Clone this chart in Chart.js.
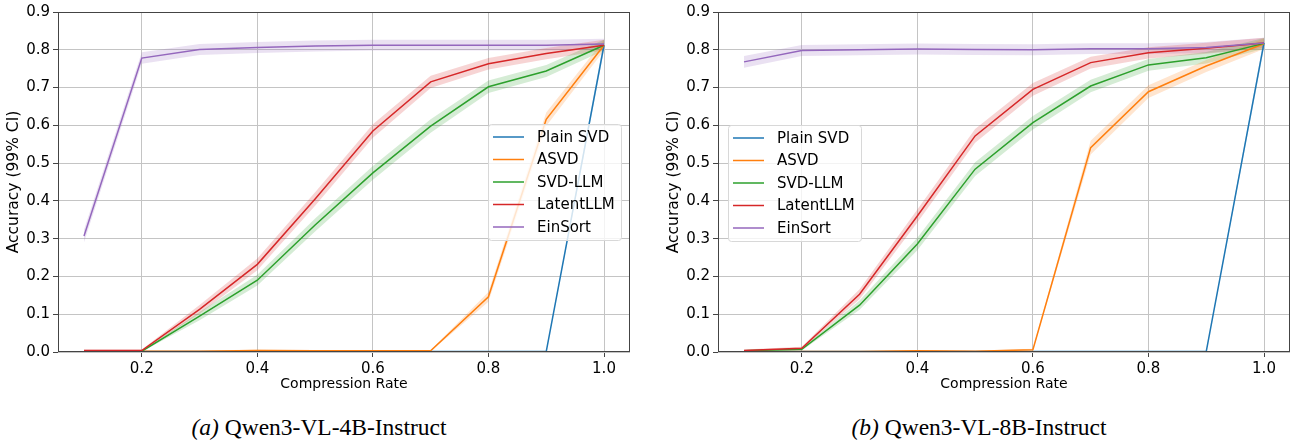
<!DOCTYPE html>
<html>
<head>
<meta charset="utf-8">
<script src="https://cdn.jsdelivr.net/npm/chart.js@4.4.1/dist/chart.umd.min.js"></script>
<style>
html,body{margin:0;padding:0;background:#fff;}
body{width:1291px;height:443px;position:relative;overflow:hidden;}
.wrap{position:absolute;top:0;height:400px;}
.cap{position:absolute;top:415px;line-height:24px;font-family:'Liberation Serif','Times New Roman',serif;font-size:23.5px;color:#000;white-space:nowrap;transform:translateX(-50%);}
</style>
</head>
<body>
<div class="wrap" style="left:0;width:645px"><canvas id="c1" width="645" height="400"></canvas></div>
<div class="wrap" style="left:660px;width:631px"><canvas id="c2" width="631" height="400"></canvas></div>
<div class="cap" style="left:319px"><i>(a)</i> Qwen3-VL-4B-Instruct</div>
<div class="cap" style="left:979px"><i>(b)</i> Qwen3-VL-8B-Instruct</div>
<script>
// ---------- data ----------
const compressionRates = [0.1, 0.2, 0.3, 0.4, 0.5, 0.6, 0.7, 0.8, 0.9, 1.0];
const xTickValues = [0.2, 0.4, 0.6, 0.8, 1.0];
const yTickValues = [0.0, 0.1, 0.2, 0.3, 0.4, 0.5, 0.6, 0.7, 0.8, 0.9];
const seriesNames = ['Plain SVD', 'ASVD', 'SVD-LLM', 'LatentLLM', 'EinSort'];
const seriesColors = ['#1f77b4', '#ff7f0e', '#2ca02c', '#d62728', '#9467bd'];

// Qwen3-VL-4B-Instruct
const plainSvd4B  = [0.001, 0.001, 0.001, 0.001, 0.001, 0.001, 0.001, 0.001, 0.001, 0.812];
const asvd4B      = [0.002, 0.002, 0.002, 0.004, 0.003, 0.003, 0.003, 0.146, 0.616, 0.812];
const svdLlm4B    = [0.002, 0.002, 0.095, 0.190, 0.336, 0.474, 0.598, 0.702, 0.744, 0.812];
const latentLlm4B = [0.004, 0.004, 0.113, 0.232, 0.405, 0.585, 0.715, 0.763, 0.790, 0.812];
const einSort4B   = [0.307, 0.778, 0.801, 0.806, 0.810, 0.812, 0.812, 0.812, 0.812, 0.815];

// Qwen3-VL-8B-Instruct
const plainSvd8B  = [0.001, 0.001, 0.001, 0.001, 0.001, 0.001, 0.001, 0.001, 0.001, 0.818];
const asvd8B      = [0.001, 0.001, 0.001, 0.003, 0.002, 0.006, 0.541, 0.689, 0.757, 0.816];
const svdLlm8B    = [0.003, 0.007, 0.124, 0.286, 0.484, 0.607, 0.704, 0.760, 0.779, 0.817];
const latentLlm8B = [0.004, 0.010, 0.153, 0.360, 0.572, 0.695, 0.766, 0.792, 0.804, 0.818];
const einSort8B   = [0.768, 0.798, 0.800, 0.802, 0.801, 0.800, 0.803, 0.803, 0.806, 0.818];

// 99% confidence interval (binomial) parameters
const ciZ = 2.576;
const ciSampleCount = 5000;

// ---------- helpers ----------
const FONT = "'DejaVu Sans', sans-serif";
function ciHalf(p) { return ciZ * Math.sqrt(Math.max(p * (1 - p), 0) / ciSampleCount); }
function rgba(hex, a) {
  const n = parseInt(hex.slice(1), 16);
  return 'rgba(' + (n >> 16 & 255) + ',' + (n >> 8 & 255) + ',' + (n & 255) + ',' + a + ')';
}

const boxPlugin = {
  id: 'axesBox',
  afterDatasetsDraw(chart) {
    const {ctx, chartArea: a} = chart;
    ctx.save();
    ctx.strokeStyle = '#444';
    ctx.lineWidth = 1;
    ctx.strokeRect(Math.round(a.left) + 0.5, Math.round(a.top) + 0.5,
                   Math.round(a.right - a.left) - 1, Math.round(a.bottom - a.top) - 1);
    ctx.restore();
  }
};

const legendPlugin = {
  id: 'mplLegend',
  afterDraw(chart, args, opts) {
    const {ctx, chartArea: a} = chart;
    const w = 133, h = 116;
    const left = opts.anchor === 'right' ? a.right - opts.offsetX - w : a.left + opts.offsetX;
    const top = a.top + opts.offsetY;
    ctx.save();
    ctx.beginPath();
    if (ctx.roundRect) ctx.roundRect(left + 0.5, top + 0.5, w, h, 3); else ctx.rect(left + 0.5, top + 0.5, w, h);
    ctx.fillStyle = 'rgba(255,255,255,0.8)';
    ctx.fill();
    ctx.strokeStyle = '#d8d8d8';
    ctx.lineWidth = 1;
    ctx.stroke();
    ctx.font = '15px ' + FONT;
    ctx.textBaseline = 'middle';
    ctx.textAlign = 'left';
    seriesNames.forEach((name, i) => {
      const y = top + 13 + i * 22.5;
      ctx.beginPath();
      ctx.moveTo(left + 5, y);
      ctx.lineTo(left + 36, y);
      ctx.strokeStyle = seriesColors[i];
      ctx.lineWidth = 1.5;
      ctx.stroke();
      ctx.fillStyle = '#000';
      ctx.fillText(name, left + 49, y + 1);
    });
    ctx.restore();
  }
};

function buildChart(canvasId, seriesValues, legendOpts, rightPad) {
  const datasets = [];
  seriesValues.forEach((vals, i) => {
    const color = seriesColors[i];
    datasets.push({
      label: seriesNames[i] + ' lower',
      data: vals.map((v, k) => ({x: compressionRates[k], y: v - ciHalf(v)})),
      borderWidth: 0, pointRadius: 0, fill: false, order: 100 + i
    });
    datasets.push({
      label: seriesNames[i] + ' upper',
      data: vals.map((v, k) => ({x: compressionRates[k], y: v + ciHalf(v)})),
      borderWidth: 0, pointRadius: 0, fill: '-1', backgroundColor: rgba(color, 0.2), order: 100 + i
    });
    datasets.push({
      label: seriesNames[i],
      data: vals.map((v, k) => ({x: compressionRates[k], y: v})),
      borderColor: color, borderWidth: 1.5, pointRadius: 0, fill: false, tension: 0, order: 10 - i
    });
  });

  return new Chart(document.getElementById(canvasId), {
    type: 'line',
    data: {datasets},
    options: {
      responsive: false,
      animation: false,
      events: [],
      layout: {padding: {top: 12, right: rightPad, left: 0, bottom: 0}},
      plugins: {
        legend: {display: false},
        tooltip: {enabled: false},
        filler: {drawTime: 'beforeDatasetsDraw', propagate: false},
        mplLegend: legendOpts
      },
      scales: {
        x: {
          type: 'linear', min: 0.055, max: 1.045,
          afterBuildTicks: s => { s.ticks = xTickValues.map(v => ({value: v})); },
          afterFit: s => { s.height = 48; },
          ticks: {font: {family: FONT, size: 15}, color: '#000', padding: 3, maxRotation: 0, autoSkip: false,
                  callback: v => Number(v).toFixed(1)},
          grid: {color: '#c4c4c4', lineWidth: 1, tickLength: 5, tickColor: '#444', drawTicks: true},
          border: {display: false},
          title: {display: true, text: 'Compression Rate', color: '#000',
                  font: {family: FONT, size: 14}, padding: {top: 0, bottom: 7}}
        },
        y: {
          type: 'linear', min: 0, max: 0.9,
          afterBuildTicks: s => { s.ticks = yTickValues.map(v => ({value: v})); },
          afterFit: s => { s.width = 58; },
          ticks: {font: {family: FONT, size: 15}, color: '#000', padding: 3, autoSkip: false,
                  callback: v => Number(v).toFixed(1)},
          grid: {color: '#c4c4c4', lineWidth: 1, tickLength: 5, tickColor: '#444', drawTicks: true},
          border: {display: false},
          title: {display: true, text: 'Accuracy (99% CI)', color: '#000',
                  font: {family: FONT, size: 15.5}, padding: {top: 5, bottom: 0}}
        }
      }
    },
    plugins: [boxPlugin, legendPlugin]
  });
}

buildChart('c1', [plainSvd4B, asvd4B, svdLlm4B, latentLlm4B, einSort4B],
           {anchor: 'right', offsetX: 9, offsetY: 112}, 15);
buildChart('c2', [plainSvd8B, asvd8B, svdLlm8B, latentLlm8B, einSort8B],
           {anchor: 'left', offsetX: 10, offsetY: 113}, 1);
</script>
</body>
</html>
